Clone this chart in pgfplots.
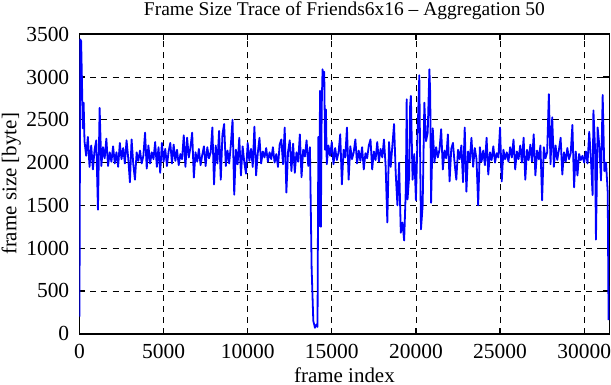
\documentclass[border=0pt]{standalone}
\usepackage{fontspec}
\setmainfont{Liberation Serif}
\usepackage{pgfplots}
\pgfplotsset{compat=1.18}
\usepackage{pgfplotstable}
\pgfplotstableread{
x y
0 200
50 3440
100 3420
150 2950
200 2400
250 2700
300 2250
400 2080
500 2300
600 1950
700 2200
800 1920
900 2150
1000 2260
1100 1450
1200 2640
1300 1960
1400 2180
1500 2050
1600 2280
1700 1960
1800 2120
1900 2010
2000 2190
2100 1990
2200 2120
2300 1950
2400 2230
2500 2040
2600 2170
2700 1990
2800 2260
2900 2050
3000 1770
3100 2270
3200 1980
3300 1800
3400 2120
3500 2020
3600 2140
3700 1990
3800 2080
3900 2350
4000 1930
4100 2200
4200 1990
4300 2120
4400 2040
4500 2240
4600 1950
4700 2180
4800 1880
4900 2230
5000 2010
5100 2160
5200 1960
5300 2130
5400 2230
5500 1990
5600 2210
5700 2020
5800 2150
5900 1970
6000 2100
6100 2040
6200 2320
6300 1950
6400 2290
6500 2060
6600 2180
6700 2350
6800 1825
6900 2120
7000 2010
7100 2160
7200 1970
7300 2090
7400 2190
7500 1960
7600 2180
7700 2050
7800 2120
7900 2410
8000 1745
8100 2200
8200 1990
8300 2370
8400 1800
8500 2330
8600 2450
8700 1960
8800 2140
8900 1990
9000 2210
9100 2500
9200 1625
9300 2150
9400 1980
9500 2290
9600 1850
9700 2190
9800 2000
9900 1870
10000 2230
10100 2020
10200 2160
10300 1950
10400 2420
10500 1850
10600 2110
10700 2290
10800 1990
10900 2130
11000 2060
11100 2170
11200 2010
11300 2120
11400 2040
11500 2180
11600 2000
11700 2100
11800 1950
11900 2210
12000 2270
12100 1980
12200 2410
12300 1650
12400 2130
12500 2260
12600 1900
12700 2220
12800 1880
12900 2120
13000 2010
13100 2330
13200 1830
13300 2150
13400 2070
13500 2260
13600 1960
13700 2180
13800 770
13900 150
14000 70
14100 110
14150 80
14200 2300
14250 1260
14300 2840
14350 1250
14400 2650
14450 3090
14500 2950
14550 3060
14600 2150
14650 2620
14700 1980
14800 2200
14900 2080
15000 2240
15100 1980
15200 2170
15300 2030
15400 2120
15500 2330
15600 1745
15700 2150
15800 2060
15900 2410
16000 1800
16100 2190
16200 2040
16300 2120
16400 2270
16500 1990
16600 2140
16700 2020
16800 2180
16900 1920
17000 2110
17100 2050
17200 2200
17300 2270
17400 1920
17500 2130
17600 2030
17700 2240
17800 2010
17900 2160
18000 2060
18100 2270
18200 1960
18300 1300
18400 2240
18500 1950
18600 2200
18700 2450
18800 1870
18900 1500
19000 2000
19100 1180
19200 1300
19300 1090
19400 1700
19450 2740
19500 1570
19600 1850
19650 2650
19700 2780
19800 1800
19900 2100
20000 1560
20100 2350
20200 3020
20250 2080
20300 1220
20400 1500
20500 2700
20600 2250
20700 2350
20800 3090
20850 2800
20900 1530
21000 2400
21100 2000
21200 2180
21300 2060
21400 2150
21500 2390
21600 1920
21700 2140
21800 2050
21900 2330
22000 1780
22100 2160
22200 2230
22300 1990
22400 1800
22500 2150
22600 2040
22700 2200
22800 1770
22900 2410
23000 1660
23100 2130
23200 2010
23300 2290
23400 1950
23500 2170
23600 2040
23700 1500
23800 2180
23900 2010
24000 2140
24100 1970
24200 2290
24300 1860
24400 2120
24500 2030
24600 2190
24700 2000
24800 2110
24900 2060
25000 2410
25100 1780
25200 2150
25300 2040
25400 2120
25500 2010
25600 2180
25700 2060
25800 2270
25900 1920
26000 2130
26100 2040
26200 2200
26300 2000
26400 2290
26500 1800
26600 2150
26700 2030
26800 2210
26900 2010
27000 2330
27100 1850
27200 2140
27300 2040
27400 2200
27500 1560
27600 2180
27700 2050
27800 2120
27900 2800
28000 1980
28100 2530
28200 1950
28300 2200
28400 2030
28500 2150
28600 2290
28700 1860
28800 2120
28900 2010
29000 2170
29100 2040
29200 2110
29300 2440
29400 1710
29500 2130
29600 1850
29700 2100
29800 2030
29900 2080
30000 2000
30100 2130
30200 1990
30300 2360
30400 2050
30500 1620
30550 2610
30650 2150
30700 1100
30800 2410
30900 2200
31000 1790
31100 2790
31200 1900
31300 2000
31400 1650
31450 160
}\trace
\begin{document}
\begin{tikzpicture}
\begin{axis}[
  scale only axis, width=529bp, height=299bp,
  xmin=0, xmax=31500, ymin=0, ymax=3500,
  xtick={0,5000,...,30000}, ytick={0,500,...,3500},
  scaled ticks=false,
  /pgf/number format/1000 sep={},
  /pgf/number format/assume math mode=true,
  tick label style={font=\fontsize{21.5}{24}\selectfont},
  label style={font=\fontsize{21}{24}\selectfont},
  title style={font=\fontsize{19.5}{22}\selectfont, at={(axis description cs:0.5,1)}, anchor=base, inner sep=1.5bp, yshift=13bp},
  title={Frame Size Trace of Friends6x16 -- Aggregation 50},
  xlabel={frame index}, ylabel={frame size [byte]},
  xticklabel style={anchor=base, inner sep=0pt, yshift=-25bp},
  yticklabel style={anchor=east, inner sep=0pt, xshift=-10bp},
  xlabel style={at={(axis description cs:0.5,0)}, anchor=south, inner sep=2bp, yshift=-51bp},
  ylabel style={at={(axis description cs:0,0.5)}, rotate=0, anchor=north, inner sep=1.5bp, yshift=79.5bp},
  grid=major,
  major grid style={black, dash pattern=on 6bp off 5bp, line width=0.8bp},
  axis line style={line width=1.6bp},
  tick style={black, line width=1.2bp},
  tick align=inside, major tick length=6bp,
]
\addplot[blue, line width=1.8bp, line join=round] table[x=x, y=y] {\trace};
\end{axis}
\end{tikzpicture}
\end{document}
